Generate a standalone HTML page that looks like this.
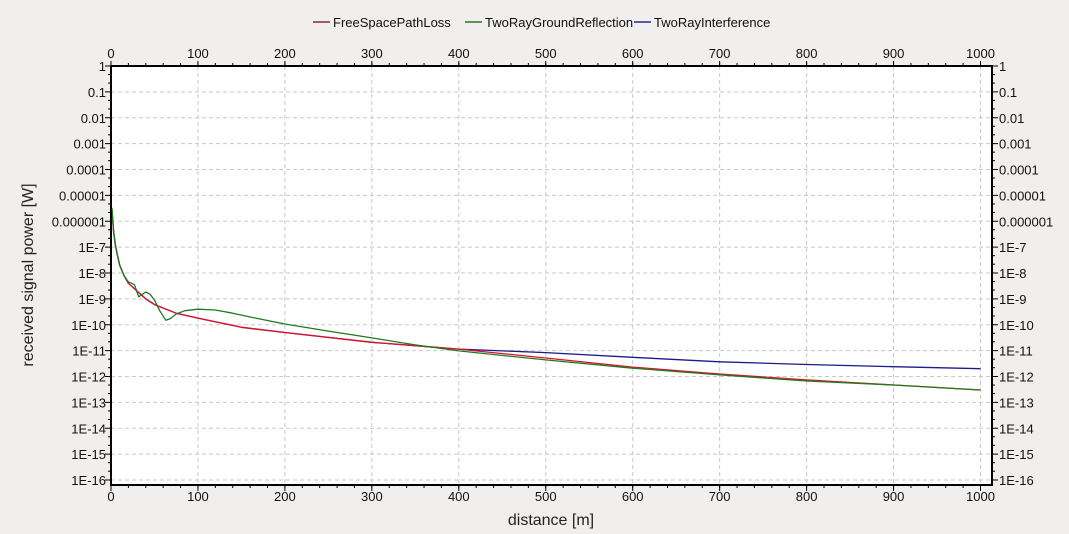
<!DOCTYPE html>
<html><head><meta charset="utf-8"><style>
body{margin:0;background:#f0efed;}
svg{display:block;font-family:"Liberation Sans",sans-serif;}
</style></head><body>
<svg id="c" width="1069" height="534"></svg>
<script>
const redD=[1,3,5,7,10,15,20,30,40,50,75,100,150,200,300,350,400,500,600,700,800,900,1000];
const redP=[3e-6,4e-7,1.3e-7,5.5e-8,2e-8,8e-9,4e-9,2e-9,1e-9,6e-10,2.8e-10,1.8e-10,8e-11,5e-11,2.1e-11,1.55e-11,1.15e-11,5.2e-12,2.3e-12,1.25e-12,7.4e-13,4.7e-13,3e-13];
const greenD=[1,3,5,7,10,15,20,24,27,30,32,36,40,45,50,56,63,68,75,85,100,120,140,170,200,250,300,350,400,500,600,700,800,900,1000];
const greenP=[3.3e-6,4e-7,1.2e-7,5.5e-8,2e-8,8e-9,4.5e-9,4e-9,3.5e-9,1.8e-9,1.2e-9,1.5e-9,1.85e-9,1.5e-9,9e-10,3.5e-10,1.5e-10,1.7e-10,2.6e-10,3.5e-10,4e-10,3.7e-10,2.8e-10,1.7e-10,1.07e-10,5.7e-11,3.1e-11,1.66e-11,9.8e-12,4.4e-12,2.1e-12,1.15e-12,6.7e-13,4.7e-13,3e-13];
const blueD=[1,3,5,7,10,15,20,30,40,50,75,100,150,200,300,350,400,500,600,700,800,900,1000];
const blueP=[3e-6,4e-7,1.3e-7,5.5e-8,2e-8,8e-9,4e-9,2e-9,1e-9,6e-10,2.8e-10,1.8e-10,8e-11,5e-11,2.1e-11,1.55e-11,1.15e-11,8.4e-12,5.5e-12,3.7e-12,2.9e-12,2.4e-12,2e-12];
const xTicks=[0,100,200,300,400,500,600,700,800,900,1000];
const yLabels=["1","0.1","0.01","0.001","0.0001","0.00001","0.000001","1E-7","1E-8","1E-9","1E-10","1E-11","1E-12","1E-13","1E-14","1E-15","1E-16"];

const NS="http://www.w3.org/2000/svg";
const svg=document.getElementById('c');
const L=111,R=992,T=66,B=485;
const xs=d=>111+d*0.8695;
const ys=p=>66-Math.log10(p)*25.875;
function el(tag,a,parent){const e=document.createElementNS(NS,tag);for(const k in a)e.setAttribute(k,a[k]);(parent||svg).appendChild(e);return e;}

const bg=el('rect',{x:L,y:T,width:R-L,height:B-T,fill:'#fff'});



xTicks.forEach(v=>{
  const g=el('line',{x1:xs(v),x2:xs(v),y1:T,y2:B,stroke:'#c8c8c8','stroke-dasharray':'4,3'});
  
  
  [[B+16,'x-tick-label-bottom'],[T-8,'x-tick-label-top']].forEach(([yy,nm])=>{
    const t=el('text',{x:xs(v),y:yy,'font-size':13,'text-anchor':'middle',fill:'#111'});
    t.textContent=v;
    
    
  });
  el('line',{x1:xs(v),x2:xs(v),y1:B,y2:B+6,stroke:'#000'});
  el('line',{x1:xs(v),x2:xs(v),y1:T-5,y2:T,stroke:'#000'});
});
for(let v=0;v<=1000;v+=20){el('line',{x1:xs(v),x2:xs(v),y1:B,y2:B+3,stroke:'#000'});el('line',{x1:xs(v),x2:xs(v),y1:T-3,y2:T,stroke:'#000'});}
yLabels.forEach((lab,i)=>{
  const y=ys(Math.pow(10,-i));
  const g=el('line',{x1:L,x2:R,y1:y,y2:y,stroke:'#c8c8c8','stroke-dasharray':'4,3'});
  
  
  el('line',{x1:L-6,x2:L,y1:y,y2:y,stroke:'#000'});
  el('line',{x1:R,x2:R+6,y1:y,y2:y,stroke:'#000'});
  if(i<16){for(const f of [0.33,0.66]){const yy=y+f*25.875;el('line',{x1:L-3,x2:L,y1:yy,y2:yy,stroke:'#000'});el('line',{x1:R,x2:R+3,y1:yy,y2:yy,stroke:'#000'});}}
  const t=el('text',{x:L-5,y:y+5,'font-size':13,'text-anchor':'end',fill:'#111'});
  t.textContent=lab;
  
  
  const t2=el('text',{x:R+7,y:y+5,'font-size':13,fill:'#111'});
  t2.textContent=lab;
  
  
});

function series(D,P,color,name){
  const pts=D.map((d,i)=>xs(d).toFixed(1)+','+ys(P[i]).toFixed(1)).join(' ');
  const p=el('polyline',{points:pts,fill:'none',stroke:color,'stroke-width':1.3,'stroke-linejoin':'round'});
  
  
}
series(blueD,blueP,'#1a1a8c','two-ray-interference-line');
series(redD,redP,'#e0102a','free-space-path-loss-line');
series(greenD,greenP,'#1f7a1f','two-ray-ground-reflection-line');

const fr=el('rect',{x:L,y:T,width:R-L,height:B-T,fill:'none',stroke:'#000','stroke-width':2});



const xt=el('text',{x:551,y:525,'font-size':16,'text-anchor':'middle',fill:'#222'});
xt.textContent='distance [m]';


const yt=el('text',{x:0,y:0,'font-size':16,'text-anchor':'middle',fill:'#222',transform:'translate(33,275) rotate(-90)'});
yt.textContent='received signal power [W]';



const legendItems=[['FreeSpacePathLoss','#800000',313],['TwoRayGroundReflection','#006000',465],['TwoRayInterference','#000080',634]];
legendItems.forEach(([n,c,x])=>{
  const g=el('g',{});
  
  
  el('line',{x1:x,x2:x+17,y1:22,y2:22,stroke:c,'stroke-width':1.3},g);
  const t=el('text',{x:x+20,y:27,'font-size':13,fill:'#111'},g);
  t.textContent=n;
});
</script>
</body></html>
